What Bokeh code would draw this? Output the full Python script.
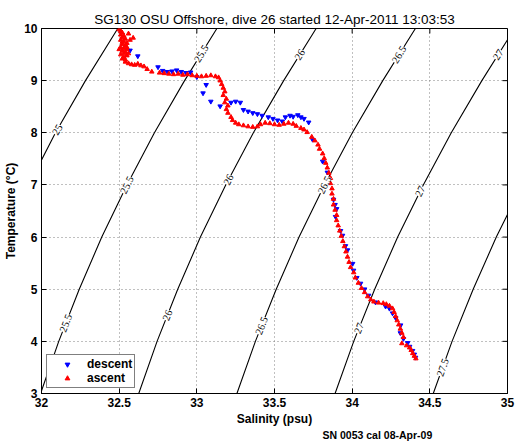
import numpy as np
from bokeh.plotting import figure
from bokeh.models import (Range1d, ColumnDataSource, LabelSet, Title,
                          Legend, LegendItem, FixedTicker)
from bokeh.embed import file_html
from bokeh.resources import INLINE

# ---------------- data ----------------
title_text = "SG130 OSU Offshore, dive 26 started 12-Apr-2011 13:03:53"
x_ticks = [32, 32.5, 33, 33.5, 34, 34.5, 35]
x_tick_labels = ["32", "32.5", "33", "33.5", "34", "34.5", "35"]
y_ticks = [3, 4, 5, 6, 7, 8, 9, 10]

# isopycnals (sigma-theta): salinity at which each level crosses these temperatures
contour_T = [3, 4, 5, 6, 7, 8, 9, 10]
sig25_T = [7, 8, 9, 10]
sig25_S = [31.918, 32.090, 32.283, 32.491]
sig255_S = [31.994, 32.111, 32.243, 32.388, 32.550, 32.727, 32.921, 33.129]
sig26_S = [32.626, 32.744, 32.877, 33.023, 33.186, 33.364, 33.559, 33.768]
sig265_S = [33.258, 33.377, 33.511, 33.658, 33.822, 34.001, 34.197, 34.407]
sig27_S = [33.890, 34.010, 34.145, 34.293, 34.458, 34.638, 34.835, 35.046]
sig275_T = [3, 4, 5, 6, 7]
sig275_S = [34.522, 34.643, 34.779, 34.928, 35.094]

# contour labels
clabel_text = ["25", "25.5", "25.5", "25.5", "26", "26", "26", "26.5", "26.5", "26.5",
               "27", "27", "27", "27.5"]
clabel_S = [32.102, 33.029, 32.550, 32.157, 33.663, 33.204, 32.811, 34.302, 33.822, 33.417,
            34.940, 34.438, 34.044, 34.583]
clabel_T = [8.06, 9.52, 7.00, 4.35, 9.50, 7.10, 4.50, 9.50, 7.00, 4.30,
            9.50, 6.88, 4.25, 3.50]

# descent (blue)
desc_S = [32.57, 32.62, 32.75, 32.78, 32.81, 32.84, 32.87, 32.90, 32.93, 32.96,
          33.00, 33.06, 33.04, 33.09, 33.15, 33.22, 33.25, 33.28, 33.30, 33.33,
          33.36, 33.39, 33.42, 33.46, 33.49, 33.52, 33.55, 33.57, 33.60, 33.62,
          33.65, 33.67, 33.69, 33.72, 33.745, 33.81, 33.84, 33.88, 33.89, 33.90,
          33.893, 33.925, 33.938, 33.957, 33.97, 34.003, 34.009, 34.03, 34.054, 34.08,
          34.106, 34.15, 34.215, 34.24, 34.26, 34.28, 34.312, 34.31, 34.33, 34.357,
          34.37, 34.389, 34.40, 34.408]
desc_T = [9.58, 9.47, 9.26, 9.19, 9.17, 9.18, 9.20, 9.17, 9.15, 9.16,
          9.07, 8.92, 8.76, 8.60, 8.51, 8.58, 8.60, 8.58, 8.44, 8.41,
          8.38, 8.36, 8.33, 8.30, 8.27, 8.24, 8.22, 8.30, 8.33, 8.31,
          8.34, 8.30, 8.27, 8.20, 7.87, 7.45, 7.24, 6.72, 6.62, 6.54,
          6.39, 6.12, 6.03, 5.83, 5.75, 5.49, 5.36, 5.22, 5.11, 5.00,
          4.88, 4.75, 4.67, 4.63, 4.54, 4.45, 4.31, 4.16, 4.05, 3.97,
          3.90, 3.82, 3.75, 3.69]

# ascent (red)
asc_S = [32.50, 32.51, 32.52, 32.51, 32.53, 32.52, 32.54, 32.51, 32.53, 32.55,
         32.52, 32.54, 32.51, 32.53, 32.55, 32.52, 32.54, 32.53, 32.51, 32.55,
         32.53, 32.52, 32.54, 32.57, 32.59, 32.56, 32.55, 32.56, 32.50, 32.52,
         32.54, 32.56, 32.58, 32.60, 32.62, 32.64, 32.66, 32.68, 32.71,
         32.76, 32.79, 32.82, 32.85, 32.88, 32.91, 32.94, 32.97, 33.00, 33.03,
         33.06, 33.09, 33.12, 33.14,
         33.15, 33.16, 33.17, 33.18, 33.17, 33.19, 33.18, 33.20, 33.19, 33.20, 33.22,
         33.23, 33.25, 33.27, 33.30, 33.33, 33.36, 33.39, 33.41, 33.44, 33.47,
         33.50, 33.53, 33.56, 33.59, 33.62, 33.64, 33.67, 33.69,
         33.71, 33.74, 33.76, 33.78, 33.79, 33.81, 33.82, 33.83, 33.84, 33.85,
         33.86, 33.86, 33.87, 33.87, 33.88, 33.88, 33.89, 33.90, 33.90, 33.91,
         33.92, 33.93, 33.94, 33.95, 33.96, 33.97, 33.98, 33.99, 34.01, 34.02,
         34.04, 34.06, 34.08, 34.10, 34.12, 34.14, 34.17, 34.20, 34.22, 34.24,
         34.26, 34.27, 34.28, 34.29, 34.30, 34.31, 34.32, 34.33, 34.32, 34.35,
         34.37, 34.38, 34.39, 34.40, 34.41]
asc_T = [9.98, 9.95, 9.92, 9.88, 9.86, 9.83, 9.80, 9.78, 9.75, 9.72,
         9.70, 9.67, 9.64, 9.62, 9.60, 9.57, 9.55, 9.52, 9.50, 9.48,
         9.45, 9.42, 9.40, 9.78, 9.82, 9.90, 9.64, 9.52, 9.60, 9.74,
         9.36, 9.33, 9.31, 9.30, 9.32, 9.29, 9.27, 9.22, 9.17,
         9.15, 9.14, 9.13, 9.12, 9.13, 9.11, 9.12, 9.10, 9.09, 9.08,
         9.09, 9.10, 9.08, 9.06,
         9.00, 8.93, 8.86, 8.79, 8.72, 8.65, 8.58, 8.52, 8.45, 8.38, 8.30,
         8.24, 8.19, 8.16, 8.14, 8.12, 8.11, 8.12, 8.16, 8.19, 8.18,
         8.16, 8.15, 8.17, 8.19, 8.17, 8.13, 8.09, 8.06,
         8.01, 7.92, 7.85, 7.77, 7.69, 7.60, 7.51, 7.42, 7.33, 7.23,
         7.13, 7.03, 6.93, 6.83, 6.73, 6.62, 6.52, 6.42, 6.32, 6.22,
         6.12, 6.02, 5.92, 5.82, 5.72, 5.62, 5.52, 5.42, 5.32, 5.22,
         5.12, 5.02, 4.94, 4.86, 4.80, 4.76, 4.74, 4.73, 4.71, 4.68,
         4.63, 4.56, 4.48, 4.40, 4.32, 4.24, 4.16, 4.08, 3.96, 3.92,
         3.88, 3.83, 3.77, 3.72, 3.67]

sn_text = "SN 0053 cal 08-Apr-09"

# ---------------- figure ----------------
FONT = "Liberation Sans"
W, H = 519, 442
BL, BR, BT, BB = 41, 12, 28, 46
x0, x1, y0, y1 = 32, 35, 3, 10
p = figure(width=W, height=H, x_range=Range1d(x0, x1), y_range=Range1d(y0, y1),
           output_backend="svg", toolbar_location=None,
           min_border_left=BL, min_border_right=BR, min_border_top=BT, min_border_bottom=BB)
p.background_fill_color = "white"
p.border_fill_color = "white"
p.outline_line_color = "black"
p.outline_line_width = 1

p.title.text = title_text
p.title.align = "center"
p.title.text_font = FONT
p.title.text_font_size = "13.5px"
p.title.text_font_style = "normal"
p.title.text_color = "black"
p.title.standoff = 3

for ax in p.xaxis:
    ax.ticker = FixedTicker(ticks=x_ticks)
    ax.major_label_overrides = {t: l for t, l in zip(x_ticks, x_tick_labels)}
    ax.axis_label = "Salinity (psu)"
    ax.axis_label_standoff = 2
    ax.axis_label_text_line_height = 0.8
    ax.major_label_text_line_height = 1.0
for ax in p.yaxis:
    ax.ticker = FixedTicker(ticks=y_ticks)
    ax.axis_label = "Temperature (\u00b0C)"
    ax.axis_label_standoff = 3

for ax in list(p.xaxis) + list(p.yaxis):
    ax.major_tick_in = 5
    ax.major_tick_out = 0
    ax.minor_tick_line_color = None
    ax.major_label_text_font = FONT
    ax.major_label_text_font_size = "12px"
    ax.major_label_text_font_style = "bold"
    ax.major_label_text_color = "black"
    ax.axis_label_text_font = FONT
    ax.axis_label_text_font_size = "12px"
    ax.axis_label_text_font_style = "bold"
    ax.axis_label_text_color = "black"
    ax.axis_line_color = "black"
    ax.major_tick_line_color = "black"
    ax.major_label_standoff = 4

p.xgrid.ticker = FixedTicker(ticks=x_ticks)
p.ygrid.ticker = FixedTicker(ticks=y_ticks)
p.grid.grid_line_color = "#808080"
p.grid.grid_line_dash = "1 3"
p.grid.grid_line_width = 1

# frame geometry (pixels per data unit), used for tick lengths and label angles
frame_w, frame_h = W - BL - BR, H - BT - BB
px_S, px_T = frame_w / (x1 - x0), frame_h / (y1 - y0)

# mirrored inward ticks on the top and right edges
tick_px = 5
p.segment(x0=x_ticks, y0=[y1] * len(x_ticks), x1=x_ticks,
          y1=[y1 - tick_px / px_T] * len(x_ticks), line_color="black", line_width=1)
p.segment(x0=[x1] * len(y_ticks), y0=y_ticks, x1=[x1 - tick_px / px_S] * len(y_ticks),
          y1=y_ticks, line_color="black", line_width=1)

# isopycnal contour lines
line_kw = dict(line_color="black", line_width=1.1)
p.line(sig25_S, sig25_T, **line_kw)
for s_list in (sig255_S, sig26_S, sig265_S, sig27_S):
    p.line(s_list, contour_T, **line_kw)
p.line(sig275_S, sig275_T, **line_kw)

# label angles follow the local slope of each contour on screen
level_lines = {"25": (sig25_S, sig25_T), "25.5": (sig255_S, contour_T),
               "26": (sig26_S, contour_T), "26.5": (sig265_S, contour_T),
               "27": (sig27_S, contour_T), "27.5": (sig275_S, sig275_T)}
angles = []
for txt, t in zip(clabel_text, clabel_T):
    s_arr, t_arr = np.array(level_lines[txt][0]), np.array(level_lines[txt][1], dtype=float)
    i = int(np.clip(np.searchsorted(t_arr, t) - 1, 0, len(t_arr) - 2))
    dsdt = (s_arr[i + 1] - s_arr[i]) / (t_arr[i + 1] - t_arr[i])
    angles.append(float(np.arctan2(px_T, dsdt * px_S)))

lab_src = ColumnDataSource(dict(x=clabel_S, y=clabel_T, text=clabel_text, angle=angles))
labels = LabelSet(x="x", y="y", text="text", angle="angle", source=lab_src,
                  text_align="center", text_baseline="middle",
                  text_font=FONT, text_font_size="10.5px", text_color="black",
                  background_fill_color="white", background_fill_alpha=1.0)
p.add_layout(labels)

# profile points
r_desc = p.scatter(desc_S, desc_T, marker="inverted_triangle", size=4.5,
                   fill_color="#0000ff", line_color="#0000ff")
r_asc = p.scatter(asc_S, asc_T, marker="triangle", size=4.5,
                  fill_color="#ff0000", line_color="#ff0000")

legend = Legend(items=[LegendItem(label="descent", renderers=[r_desc]),
                       LegendItem(label="ascent", renderers=[r_asc])],
                location="bottom_left")
legend.border_line_color = "black"
legend.border_line_width = 1
legend.background_fill_color = "white"
legend.background_fill_alpha = 1.0
legend.label_text_font = FONT
legend.label_text_font_size = "12px"
legend.label_text_font_style = "bold"
legend.label_text_color = "black"
legend.glyph_width = 36
legend.glyph_height = 12
legend.label_height = 12
legend.label_standoff = 2
legend.padding = 2
legend.spacing = 0
legend.margin = 5
p.add_layout(legend)

sn = Title(text=sn_text, align="left", offset=281, standoff=0, vertical_align="top",
           text_line_height=0.8,
           text_font=FONT, text_font_size="10.5px", text_font_style="bold", text_color="black")
p.add_layout(sn, "below")

open("out.html", "w").write(file_html(p, INLINE))
